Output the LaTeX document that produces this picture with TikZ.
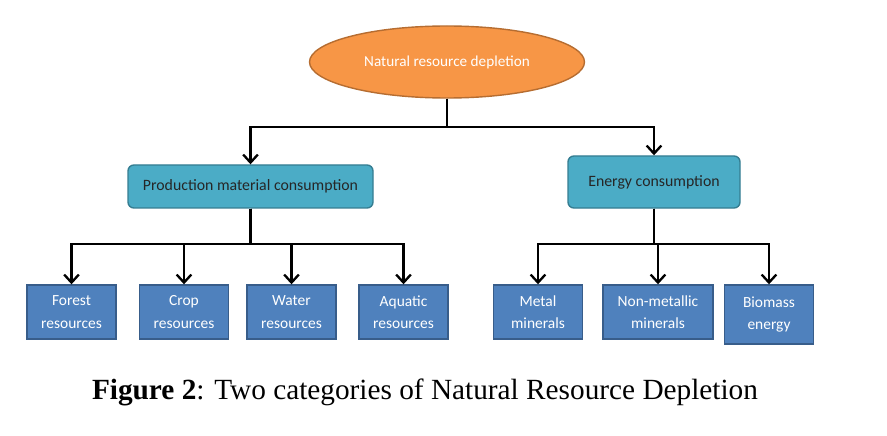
\documentclass[tikz,border=0pt]{standalone}
\usepackage{fontspec}
\setmainfont{Liberation Serif}
\newfontfamily\boxfont{Carlito}
\usetikzlibrary{arrows.meta, positioning, shapes.geometric}
\definecolor{corange}{HTML}{F79646}
\definecolor{corangedk}{HTML}{B66D31}
\definecolor{cteal}{HTML}{4BACC6}
\definecolor{ctealdk}{HTML}{357D91}
\definecolor{cblue}{HTML}{4F81BD}
\definecolor{cbluedk}{HTML}{385D8A}
\tikzset{
  every picture/.style={line width=1.2pt},
  topnode/.style={ellipse, draw=corangedk, fill=corange, text=white, font=\boxfont\fontsize{13}{15}\selectfont,
    minimum width=8.25cm, minimum height=2.16cm, inner sep=0pt},
  midbox/.style={draw=ctealdk, fill=cteal, rounded corners=5pt, font=\boxfont\fontsize{13.5}{16}\selectfont,
    text=black!85, minimum height=#1, inner sep=0pt},
  leafbox/.style={draw=cbluedk, fill=cblue, text=white, align=center, font=\boxfont\fontsize{13.2}{19}\selectfont,
    minimum width=2.67cm, minimum height=1.62cm, inner sep=0pt},
  arrow/.style={-{Straight Barb[length=2.4mm, width=4.4mm, line width=2pt]}, draw=black, line width=2pt},
  caption/.style={font=\fontsize{25}{29}\selectfont},
}
\begin{document}
\begin{tikzpicture}
  \useasboundingbox (0,0) rectangle (26.61,-13.08);
  \node[topnode] (root) at (13.41,-1.86) {Natural resource depletion};
  \node[midbox=1.29cm, minimum width=7.35cm] (pmc) at (7.515,-5.595) {Production material consumption};
  \node[midbox=1.56cm, minimum width=5.16cm] (ec) at (19.62,-5.46) {Energy consumption};
  % leaves
  \foreach \n/\x/\t in {forest/2.145/Forest\\resources, crop/5.52/Crop\\resources,
      water/8.745/Water\\resources, aquatic/12.105/Aquatic\\resources, metal/16.14/Metal\\minerals}
    {\node[leafbox] (\n) at (\x,-9.36) {\t};}
  \node[leafbox, minimum width=3.3cm] (nonmetal) at (19.74,-9.36) {Non-metallic\\minerals};
  \node[leafbox, minimum height=1.77cm] (biomass) at (23.07,-9.435) {Biomass\\energy};
  % buses
  \coordinate (bus0) at (13.41,-3.81);
  \coordinate (bus1) at (7.515,-7.32);
  \coordinate (bus2) at (19.62,-7.32);
  \foreach \c in {pmc,ec} {\draw[arrow] (root) -- (bus0) -| (\c);}
  \foreach \c in {forest,crop,water,aquatic} {\draw[arrow] (pmc) -- (bus1) -| (\c);}
  \foreach \c in {metal,nonmetal,biomass} {\draw[arrow] (ec) -- (bus2) -| (\c);}
  \node[caption] (cap) at (12.75,-11.76) {\textbf{Figure 2}: Two categories of Natural Resource Depletion};
\end{tikzpicture}
\end{document}
